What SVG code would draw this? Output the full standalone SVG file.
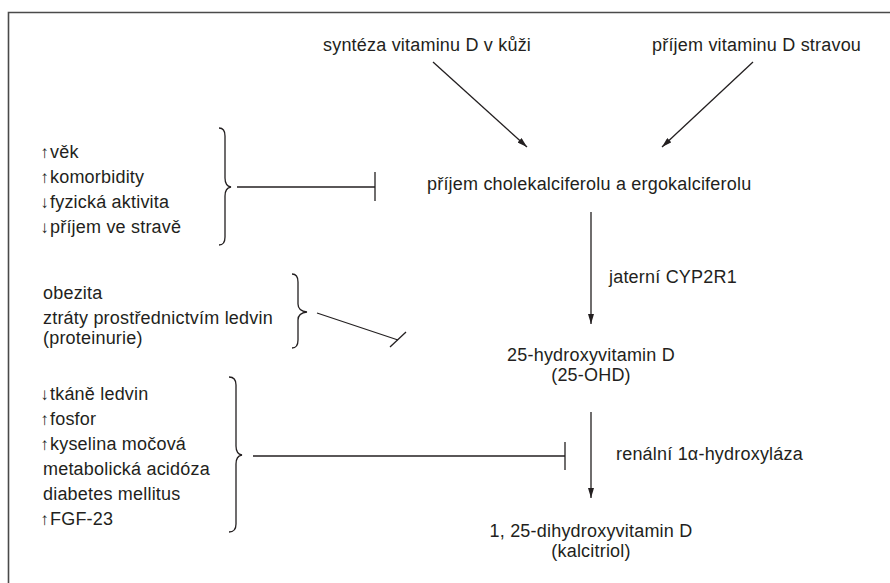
<svg xmlns="http://www.w3.org/2000/svg" width="890" height="583" viewBox="0 0 890 583">
<style>
text{font-family:"Liberation Sans",Arial,sans-serif;font-size:18px;fill:#231f20;letter-spacing:0.2px}
.c{text-anchor:middle}
.ar{font-size:17px;text-anchor:middle;letter-spacing:0}
.ln{stroke:#231f20;stroke-width:1.3;fill:none}
.br{stroke:#231f20;stroke-width:1.3;fill:none}
</style>
<defs>
<marker id="ah" viewBox="0 0 10 6" refX="10" refY="3" markerWidth="10" markerHeight="6" markerUnits="userSpaceOnUse" orient="auto">
<path d="M0,0 L10,3 L0,6 Z" fill="#231f20"/>
</marker>
</defs>
<rect width="890" height="583" fill="#fff"/>
<path d="M8.5,583 V12.5 H890" stroke="#4a4a4a" stroke-width="1.6" fill="none"/>

<g id="skin"><text x="323" y="51">syntéza vitaminu D v kůži</text></g>
<g id="diet"><text x="652" y="51">příjem vitaminu D stravou</text></g>
<g id="intake"><text x="427" y="190">příjem cholekalciferolu a ergokalciferolu</text></g>
<g id="ohd"><text class="c" x="591" y="361">25-hydroxyvitamin D</text><text class="c" x="591" y="381">(25-OHD)</text></g>
<g id="calcitriol"><text class="c" x="591" y="537">1, 25-dihydroxyvitamin D</text><text class="c" x="591" y="557">(kalcitriol)</text></g>

<g id="factors1">
<text class="ar" x="44.5" y="157.5">↑</text><text x="50" y="158">věk</text>
<text class="ar" x="44.5" y="182.5">↑</text><text x="50" y="183">komorbidity</text>
<text class="ar" x="44.5" y="207.5">↓</text><text x="50" y="208">fyzická aktivita</text>
<text class="ar" x="44.5" y="232.5">↓</text><text x="50" y="233">příjem ve stravě</text>
<path class="br" d="M219,128 Q225,128 225,136 V178 Q225,186 231,187 Q225,188 225,196 V237 Q225,245 219,245"/>
</g>
<g id="factors2">
<text x="43" y="299">obezita</text>
<text x="43" y="323.5">ztráty prostřednictvím ledvin</text>
<text x="43" y="343.7">(proteinurie)</text>
<path class="br" d="M292,274 Q298,274 298,282 V304 Q298,311 307,312 Q298,313 298,320 V340 Q298,348 292,348"/>
</g>
<g id="factors3">
<text class="ar" x="44.5" y="399.5">↓</text><text x="50" y="400">tkáně ledvin</text>
<text class="ar" x="44.5" y="424.5">↑</text><text x="50" y="425">fosfor</text>
<text class="ar" x="44.5" y="449.5">↑</text><text x="50" y="450">kyselina močová</text>
<text x="43" y="475">metabolická acidóza</text>
<text x="43" y="500">diabetes mellitus</text>
<text class="ar" x="44.5" y="524.5">↑</text><text x="50" y="525">FGF-23</text>
<path class="br" d="M229,377 Q236,377 236,385 V446 Q236,454 242,455 Q236,456 236,464 V524 Q236,532 229,532"/>
</g>

<g id="connectors">
<line class="ln" x1="433" y1="62" x2="527" y2="147" marker-end="url(#ah)"/>
<line class="ln" x1="753" y1="62" x2="662" y2="147" marker-end="url(#ah)"/>
<line class="ln" x1="591" y1="212" x2="591" y2="324" marker-end="url(#ah)"/>
<text x="609" y="283">jaterní CYP2R1</text>
<line class="ln" x1="591" y1="412" x2="591" y2="498" marker-end="url(#ah)"/>
<text x="616" y="460">renální 1α-hydroxyláza</text>
<line class="ln" x1="237" y1="187" x2="375" y2="187"/>
<line class="ln" x1="375" y1="172" x2="375" y2="201"/>
<line class="ln" x1="317" y1="313" x2="398" y2="340"/>
<line class="ln" x1="390" y1="347" x2="406" y2="332"/>
<line class="ln" x1="253" y1="456" x2="565" y2="456"/>
<line class="ln" x1="565" y1="442" x2="565" y2="470"/>
</g>
</svg>
